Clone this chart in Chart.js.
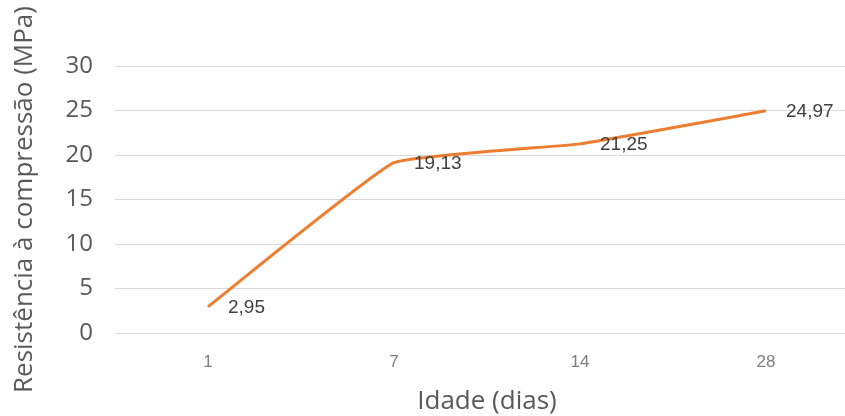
<!DOCTYPE html>
<html>
<head>
<meta charset="utf-8">
<script src="https://cdn.jsdelivr.net/npm/chart.js@4/dist/chart.umd.min.js"></script>
<style>
  html, body { margin: 0; padding: 0; background: #fff; overflow: hidden; }
  #wrap { width: 860px; height: 416px; }
</style>
</head>
<body>
<div id="wrap"><canvas id="resistencia"></canvas></div>
<script>
// idades de ensaio e resistência média
const idades = ['1', '7', '14', '28'];
const resistencia = [2.95, 19.13, 21.25, 24.97];
const yTicks = [0, 5, 10, 15, 20, 25, 30];

const cinza = '#595959';
const fonte = '"Open Sans", sans-serif';

// escreve o valor ao lado de cada ponto (vírgula decimal)
const valorPontos = {
    id: 'valorPontos',
    afterDatasetsDraw(chart) {
        const ctx = chart.ctx;
        const meta = chart.getDatasetMeta(0);
        ctx.save();
        ctx.font = '19px "Liberation Sans", Arial, sans-serif';
        ctx.fillStyle = '#404040';
        ctx.textAlign = 'left';
        ctx.textBaseline = 'middle';
        meta.data.forEach((pt, i) => {
            const txt = resistencia[i].toFixed(2).replace('.', ',');
            ctx.fillText(txt, pt.x + 20, pt.y + 1);
        });
        ctx.restore();
    }
};

const ctx = document.getElementById('resistencia').getContext('2d');
const chart = new Chart(ctx, {
    type: 'line',
    data: {
        labels: idades,
        datasets: [
            {
                label: 'Resistência',
                data: resistencia,
                borderColor: '#ED7D31',
                borderWidth: 3,
                pointRadius: 0,
                tension: 0.1,
                fill: false
            }
        ]
    },
    options: {
        responsive: true,
        maintainAspectRatio: false,
        animation: false,
        layout: { padding: { top: 66, left: 0, right: 1, bottom: 0 } },
        plugins: {
            legend: { display: false },
            tooltip: { enabled: false }
        },
        scales: {
            x: {
                offset: true,
                grid: { display: false, drawTicks: false },
                border: { display: false },
                ticks: {
                    color: '#7f7f7f',
                    font: { family: '"Liberation Sans", Arial, sans-serif', size: 17 },
                    padding: 19
                },
                title: {
                    display: true,
                    text: 'Idade (dias)',
                    color: cinza,
                    font: { family: fonte, size: 26, lineHeight: 1.1 },
                    padding: { top: 0, bottom: 0 }
                },
                afterFit: scale => { scale.height = 83; }
            },
            y: {
                min: 0,
                max: 30,
                afterBuildTicks: scale => {
                    scale.ticks = yTicks.map(v => ({ value: v }));
                },
                grid: { color: '#d9d9d9', lineWidth: 1, drawTicks: false },
                border: { display: false },
                ticks: {
                    color: cinza,
                    font: { family: fonte, size: 24 },
                    padding: 22
                },
                title: {
                    display: true,
                    text: 'Resistência à compressão (MPa)',
                    color: cinza,
                    font: { family: fonte, size: 26, lineHeight: 1.1 },
                    padding: { top: 10, bottom: 0 }
                },
                afterFit: scale => { scale.width = 115; }
            }
        }
    },
    plugins: [valorPontos]
});
</script>
</body>
</html>
